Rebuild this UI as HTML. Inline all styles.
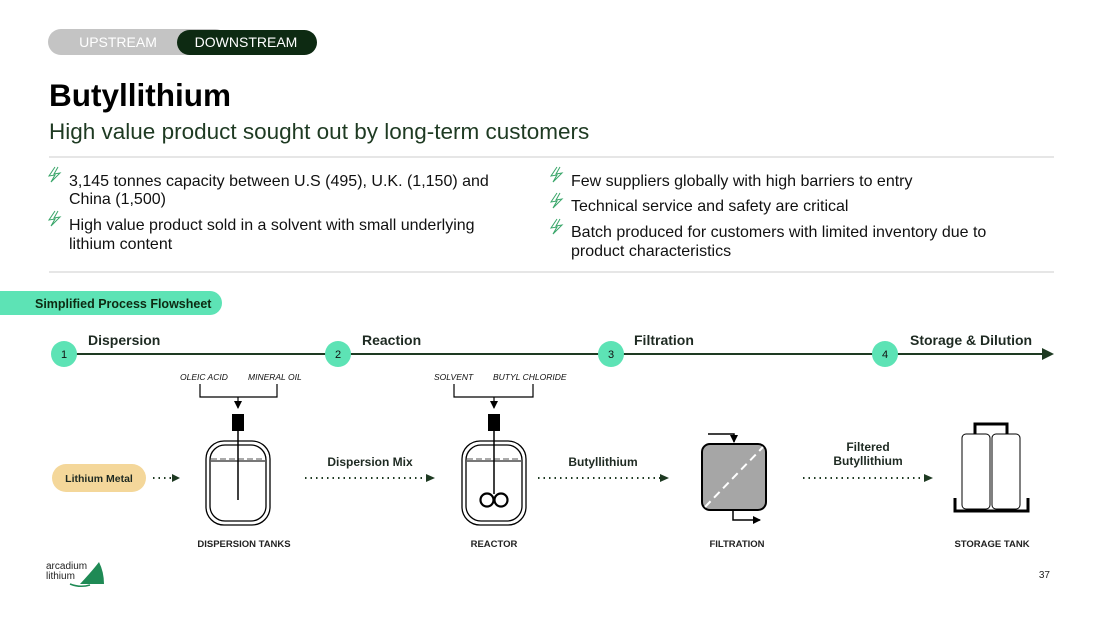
<!DOCTYPE html>
<html><head><meta charset="utf-8"><style>
body{margin:0;background:#fff;width:1097px;height:617px;overflow:hidden;font-family:"Liberation Sans",Arial,sans-serif}
</style></head><body>
<svg width="1097" height="617" viewBox="0 0 1097 617" xmlns="http://www.w3.org/2000/svg" font-family="Liberation Sans, Arial, sans-serif">
<defs>
<marker id="ab" markerWidth="8" markerHeight="8" refX="7" refY="4" orient="auto" markerUnits="userSpaceOnUse"><path d="M0,0 L8,4 L0,8 Z" fill="#000"/></marker>
<g id="bolt"><polyline points="7,0 1,9 7,8 3,15 12,6 6,7 10,0" fill="none" stroke="#3aa66a" stroke-width="1"/></g>
</defs>
<rect x="48" y="29" width="180" height="26" rx="13" fill="#c4c4c4"/>
<text x="118" y="47" font-size="14" fill="#fff" text-anchor="middle">UPSTREAM</text>
<rect x="177" y="30" width="140" height="25" rx="12.5" fill="#0d2a12"/>
<text x="246" y="47" font-size="14" fill="#fff" text-anchor="middle">DOWNSTREAM</text>
<text x="49" y="106" font-size="31.5" font-weight="bold" fill="#000">Butyllithium</text>
<text x="49" y="139" font-size="22.5" fill="#1e3a22">High value product sought out by long-term customers</text>
<line x1="49" y1="157" x2="1054" y2="157" stroke="#ccc"/>
<line x1="49" y1="272" x2="1054" y2="272" stroke="#ccc"/>
<g font-size="16" fill="#111">
<use href="#bolt" x="48" y="167"/>
<text x="69" y="186">3,145 tonnes capacity between U.S (495), U.K. (1,150) and</text>
<text x="69" y="204">China (1,500)</text>
<use href="#bolt" x="48" y="211"/>
<text x="69" y="230">High value product sold in a solvent with small underlying</text>
<text x="69" y="249">lithium content</text>
<use href="#bolt" x="550" y="167"/>
<text x="571" y="186">Few suppliers globally with high barriers to entry</text>
<use href="#bolt" x="550" y="193"/>
<text x="571" y="211">Technical service and safety are critical</text>
<use href="#bolt" x="550" y="219"/>
<text x="571" y="237">Batch produced for customers with limited inventory due to</text>
<text x="571" y="256">product characteristics</text>
</g>
<rect x="-12" y="291" width="234" height="24" rx="12" fill="#5de3b5"/>
<text x="35" y="308" font-size="12.5" font-weight="bold" fill="#0d2a12">Simplified Process Flowsheet</text>
<line x1="64" y1="354" x2="1044" y2="354" stroke="#1e3a22" stroke-width="2"/>
<path d="M1042,348 L1054,354 L1042,360 Z" fill="#1e3a22"/>
<g fill="#5de3b5"><circle cx="64" cy="354" r="13"/><circle cx="338" cy="354" r="13"/><circle cx="611" cy="354" r="13"/><circle cx="885" cy="354" r="13"/></g>
<g font-size="11" fill="#111" text-anchor="middle"><text x="64" y="358">1</text><text x="338" y="358">2</text><text x="611" y="358">3</text><text x="885" y="358">4</text></g>
<g font-size="14" font-weight="bold" fill="#1e2a22"><text x="88" y="345">Dispersion</text><text x="362" y="345">Reaction</text><text x="634" y="345">Filtration</text><text x="910" y="345">Storage &amp; Dilution</text></g>
<g font-size="8.5" font-style="italic" fill="#111"><text x="180" y="380">OLEIC ACID</text><text x="248" y="380">MINERAL OIL</text><text x="434" y="380">SOLVENT</text><text x="493" y="380">BUTYL CHLORIDE</text></g>
<g fill="none" stroke="#000" stroke-width="1.2">
<polyline points="200,384 200,397 277,397 277,384"/><line x1="238" y1="397" x2="238" y2="408" marker-end="url(#ab)"/>
<polyline points="454,384 454,397 533,397 533,384"/><line x1="494" y1="397" x2="494" y2="408" marker-end="url(#ab)"/>
</g>
<g fill="none" stroke="#000" stroke-width="1.3">
<rect x="206" y="441" width="64" height="84" rx="18"/><rect x="210" y="445" width="56" height="76" rx="15"/>
<rect x="462" y="441" width="64" height="84" rx="18"/><rect x="466" y="445" width="56" height="76" rx="15"/>
</g>
<rect x="232" y="414" width="12" height="17" fill="#000"/><rect x="488" y="414" width="12" height="17" fill="#000"/>
<line x1="211" y1="461" x2="265" y2="461" stroke="#777" stroke-width="2"/><line x1="211" y1="459" x2="265" y2="459" stroke="#aaa" stroke-width="2" stroke-dasharray="6,3"/>
<line x1="467" y1="461" x2="521" y2="461" stroke="#777" stroke-width="2"/><line x1="467" y1="459" x2="521" y2="459" stroke="#aaa" stroke-width="2" stroke-dasharray="6,3"/>
<line x1="238" y1="431" x2="238" y2="500" stroke="#000" stroke-width="1.5"/>
<line x1="494" y1="431" x2="494" y2="494" stroke="#000" stroke-width="1.5"/>
<g fill="none" stroke="#000" stroke-width="2.2"><circle cx="487" cy="500" r="6.5"/><circle cx="501" cy="500" r="6.5"/></g>
<polyline points="708,434 734,434 734,442" fill="none" stroke="#000" stroke-width="1.5" marker-end="url(#ab)"/>
<rect x="702" y="444" width="64" height="66" rx="8" fill="#a6a6a6" stroke="#000" stroke-width="2"/>
<line x1="705" y1="507" x2="763" y2="447" stroke="#fff" stroke-width="2" stroke-dasharray="8,5"/>
<polyline points="733,510 733,520 760,520" fill="none" stroke="#000" stroke-width="1.5" marker-end="url(#ab)"/>
<polyline points="975,434 975,424 1007,424 1007,434" fill="none" stroke="#000" stroke-width="3"/>
<rect x="962" y="434" width="28" height="75" rx="4" fill="#fff" stroke="#000" stroke-width="1"/>
<rect x="992" y="434" width="28" height="75" rx="4" fill="#fff" stroke="#000" stroke-width="1"/>
<polyline points="955,498 955,511 1028,511 1028,498" fill="none" stroke="#000" stroke-width="3"/>
<rect x="52" y="464" width="94" height="28" rx="14" fill="#f4d79a"/>
<text x="99" y="482" font-size="10.5" font-weight="bold" fill="#1e2a22" text-anchor="middle">Lithium Metal</text>
<g stroke="#1e3a22" stroke-width="2" stroke-dasharray="1.5,4" fill="none">
<line x1="153" y1="478" x2="174" y2="478"/><line x1="305" y1="478" x2="428" y2="478"/><line x1="538" y1="478" x2="662" y2="478"/><line x1="803" y1="478" x2="926" y2="478"/>
</g>
<g fill="#1e3a22"><path d="M172,474 L180,478 L172,482Z"/><path d="M426,474 L435,478 L426,482Z"/><path d="M660,474 L669,478 L660,482Z"/><path d="M924,474 L933,478 L924,482Z"/></g>
<g font-size="12" font-weight="bold" fill="#1e2a22" text-anchor="middle">
<text x="370" y="466">Dispersion Mix</text><text x="603" y="466">Butyllithium</text>
<text x="868" y="451">Filtered</text><text x="868" y="465">Butyllithium</text>
</g>
<g font-size="9.5" font-weight="bold" fill="#222" text-anchor="middle">
<text x="244" y="547">DISPERSION TANKS</text><text x="494" y="547">REACTOR</text><text x="737" y="547">FILTRATION</text><text x="992" y="547">STORAGE TANK</text>
</g>
<text x="1050" y="578" font-size="10" fill="#222" text-anchor="end">37</text>
<text x="46" y="569" font-size="10" fill="#222">arcadium</text>
<text x="46" y="579" font-size="10" fill="#222">lithium</text>
<path d="M80,584 Q93,570 99,562 Q104,572 104,584 Z" fill="#1f8a55"/>
<path d="M70,584 Q80,588 90,585" stroke="#1f8a55" stroke-width="1.5" fill="none"/>
</svg>
</body></html>
